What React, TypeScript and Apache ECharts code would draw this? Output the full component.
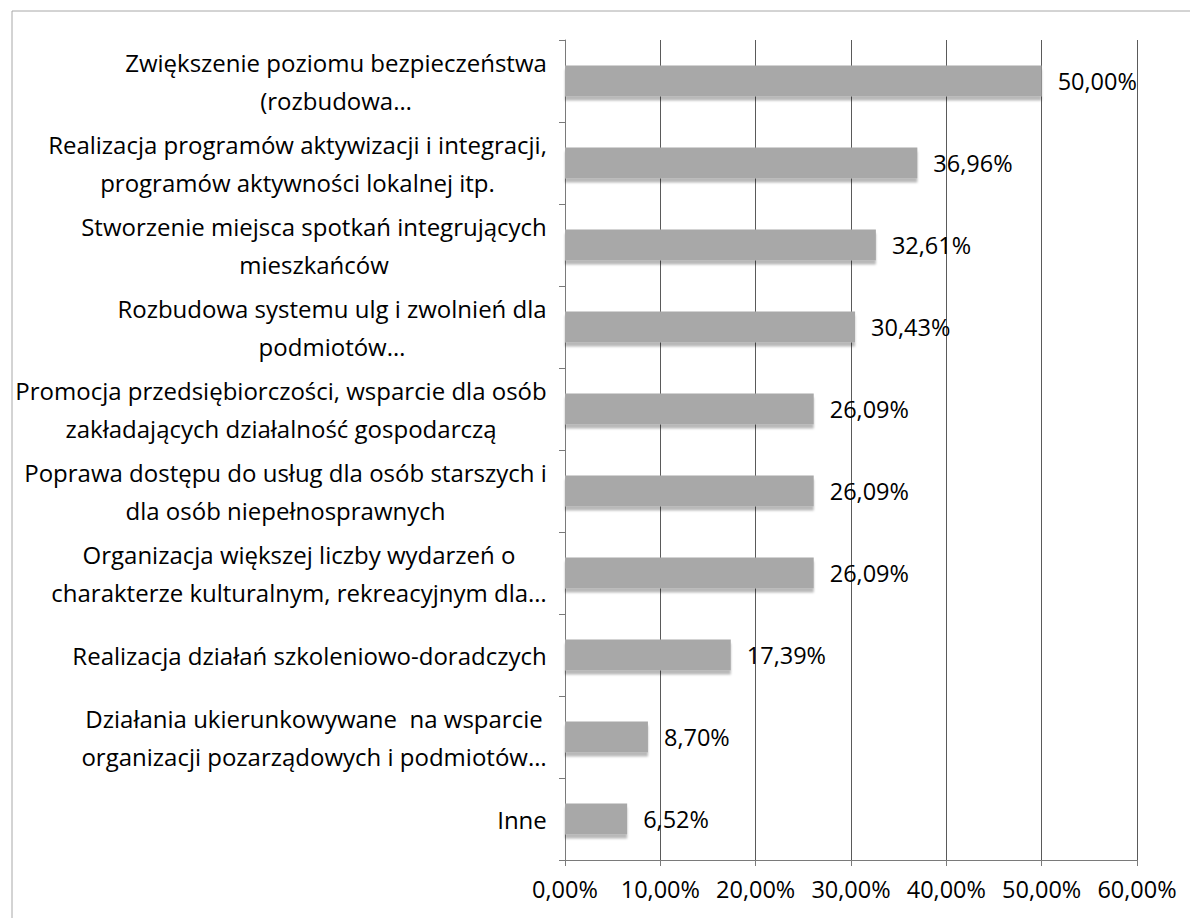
import React, { useEffect, useRef } from "react";
import * as echarts from "echarts";

const categories: string[] = [
  "Zwiększenie poziomu bezpieczeństwa\n(rozbudowa…",
  "Realizacja programów aktywizacji i integracji,\nprogramów aktywności lokalnej itp.",
  "Stworzenie miejsca spotkań integrujących\nmieszkańców",
  "Rozbudowa systemu ulg i zwolnień dla\npodmiotów…",
  "Promocja przedsiębiorczości, wsparcie dla osób\nzakładających działalność gospodarczą",
  "Poprawa dostępu do usług dla osób starszych i\ndla osób niepełnosprawnych",
  "Organizacja większej liczby wydarzeń o\ncharakterze kulturalnym, rekreacyjnym dla…",
  "Realizacja działań szkoleniowo-doradczych",
  "Działania ukierunkowywane  na wsparcie\norganizacji pozarządowych i podmiotów…",
  "Inne",
];

const values: number[] = [50.0, 36.96, 32.61, 30.43, 26.09, 26.09, 26.09, 17.39, 8.7, 6.52];

const tickLabels: string[] = ["0,00%", "10,00%", "20,00%", "30,00%", "40,00%", "50,00%", "60,00%"];

const FONT_FAMILY = "'Open Sans', 'Noto Sans', sans-serif";
const CAT_FONT_SIZE = 24;
const VAL_FONT_SIZE = 23.5;
const TEXT_COLOR = "#000000";

function measureText(text: string): number {
  const canvas = document.createElement("canvas");
  const ctx = canvas.getContext("2d");
  if (!ctx) return text.length * 12;
  ctx.font = `${CAT_FONT_SIZE}px 'Open Sans'`;
  return ctx.measureText(text).width;
}

export default function App() {
  const ref = useRef<HTMLDivElement>(null);

  useEffect(() => {
    if (!ref.current) return;
    const chart = echarts.init(ref.current, undefined, { renderer: "svg" });

    const rich: Record<string, any> = {};
    categories.forEach((c, i) => {
      const w = Math.max(...c.split("\n").map((l) => measureText(l)));
      rich["w" + i] = {
        width: Math.ceil(w) + 2,
        align: "center",
        fontSize: CAT_FONT_SIZE,
        fontFamily: FONT_FAMILY,
        lineHeight: 38,
        color: TEXT_COLOR,
      };
    });

    const fmtPct = (v: number) => v.toFixed(2).replace(".", ",") + "%";

    chart.setOption({
      animation: false,
      backgroundColor: "#ffffff",
      graphic: [
        {
          type: "rect",
          silent: true,
          z: -10,
          shape: { x: 12, y: 11, width: 1200, height: 1000 },
          style: { fill: "none", stroke: "#a8a8a8", lineWidth: 1 },
        },
      ],
      grid: { left: 565, right: 53, top: 40, bottom: 58, containLabel: false },
      xAxis: {
        type: "value",
        min: 0,
        max: 60,
        interval: 10,
        axisLine: { show: true, lineStyle: { color: "#7a7a7a", width: 1 } },
        axisTick: { show: true, length: 6, lineStyle: { color: "#7a7a7a" } },
        splitLine: { show: true, lineStyle: { color: "#5a5a5a", width: 1 } },
        axisLabel: {
          margin: 17,
          fontSize: VAL_FONT_SIZE,
          fontFamily: FONT_FAMILY,
          color: TEXT_COLOR,
          formatter: (v: number) => tickLabels[Math.round(v / 10)] ?? "",
        },
      },
      yAxis: {
        type: "category",
        inverse: true,
        data: categories,
        axisLine: { show: true, lineStyle: { color: "#7a7a7a", width: 1 } },
        axisTick: { show: true, length: 6, lineStyle: { color: "#7a7a7a" } },
        splitLine: { show: false },
        axisLabel: {
          margin: 17,
          align: "right",
          formatter: (value: string, index: number) =>
            value
              .split("\n")
              .map((l) => `{w${index}|${l}}`)
              .join("\n"),
          rich,
        },
      },
      series: [
        {
          type: "bar",
          data: values,
          barWidth: 31,
          itemStyle: {
            color: "#a8a8a8",
            shadowColor: "rgba(0,0,0,0.28)",
            shadowBlur: 2,
            shadowOffsetY: 4,
          },
          label: {
            show: true,
            position: "right",
            distance: 16,
            fontSize: VAL_FONT_SIZE,
            fontFamily: FONT_FAMILY,
            color: TEXT_COLOR,
            formatter: (p: any) => fmtPct(p.value),
          },
        },
      ],
    });

    return () => chart.dispose();
  }, []);

  return (
    <div
      ref={ref}
      style={{ position: "fixed", left: 0, top: 0, width: 1190, height: 918, background: "#fff" }}
    />
  );
}
